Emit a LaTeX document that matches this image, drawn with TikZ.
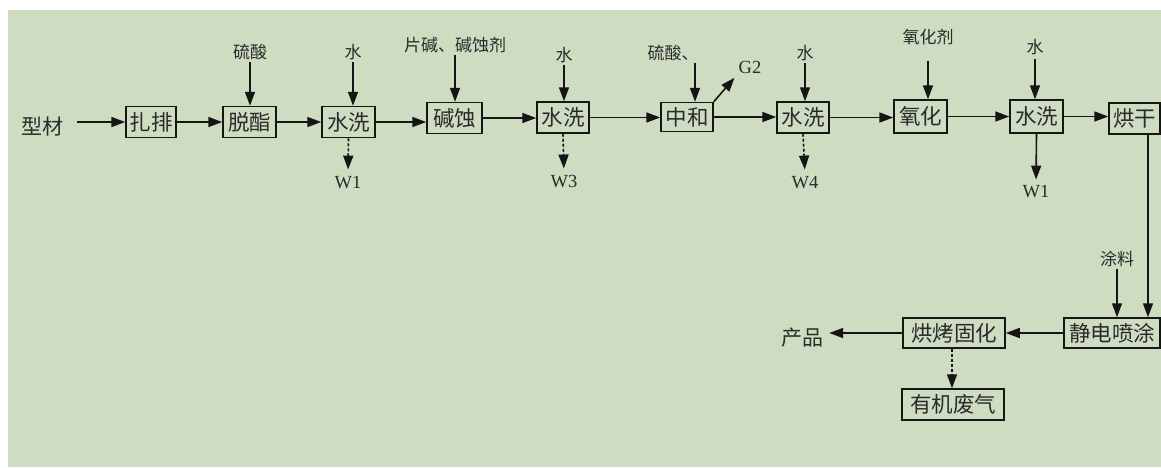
\documentclass[tikz,border=0pt]{standalone}
\usepackage{fontspec}
\setmainfont{Liberation Serif}
\newfontfamily\cjk{Noto Sans CJK SC}
\usetikzlibrary{arrows.meta}
\definecolor{bg}{HTML}{CEDDC2}
\definecolor{ink}{HTML}{151515}
\definecolor{txt}{HTML}{2A2A2A}
\tikzset{
  box/.style={draw=ink, line width=1.5pt, inner sep=0pt, text=txt,
    font=\cjk\fontsize{21.5}{21.5}\selectfont, minimum height=31pt},
  lbl/.style={inner sep=2pt, text=txt, font=\cjk\fontsize{17}{17}\selectfont},
  big/.style={inner sep=2pt, text=txt, font=\cjk\fontsize{21}{21}\selectfont},
  wl/.style={inner sep=2pt, text=txt, font=\fontsize{18.5}{18.5}\selectfont},
  arr/.style={draw=ink, line width=1.6pt, -{Triangle[length=14pt,width=10pt]}},
  darr/.style={arr, dash pattern=on 3pt off 2pt}
}
\begin{document}
\begin{tikzpicture}[x=1pt,y=-1pt]
\useasboundingbox (0,0) rectangle (1161,467);
\fill[white] (0,0) rectangle (1161,467);
\fill[bg] (8,10) rectangle (1161,467);

% boxes
\node[box, minimum width=50pt] (zp) at (151,122) {扎排};
\node[box, minimum width=53pt] (tz) at (249.5,122) {脱酯};
\node[box, minimum width=53pt] (sx1) at (348.5,122) {水洗};
\node[box, minimum width=55pt] (js) at (454.5,118) {碱蚀};
\node[box, minimum width=52pt] (sx2) at (563,117.5) {水洗};
\node[box, minimum width=52pt, minimum height=29pt] (zh) at (687,117) {中和};
\node[box, minimum width=52pt] (sx3) at (803,117.5) {水洗};
\node[box, minimum width=53pt, minimum height=33pt] (yh) at (920.5,116.5) {氧化};
\node[box, minimum width=53pt, minimum height=33pt] (sx4) at (1036.5,116.5) {水洗};
\node[box, minimum width=51pt] (hg) at (1134.5,118.5) {烘干};
\node[box, minimum width=96pt, minimum height=30pt] (jd) at (1112,333) {静电喷涂};
\node[box, minimum width=102pt, minimum height=30pt] (hk) at (954,333) {烘烤固化};
\node[box, minimum width=102pt, minimum height=31pt] (yj) at (953,404.5) {有机废气};

% labels
\node[big] (xc) at (42,127) {型材};
\node[big] (cp) at (802,338) {产品};
\node[lbl] (l1) at (250,52) {硫酸};
\node[lbl] (l2) at (353,52) {水};
\node[lbl] (l3) at (455,45) {片碱、碱蚀剂};
\node[lbl] (l4) at (564,55) {水};
\node[lbl] (l5) at (673,53) {硫酸、};
\node[lbl] (l6) at (805,53) {水};
\node[lbl] (l7) at (928,37) {氧化剂};
\node[lbl] (l8) at (1035,47) {水};
\node[lbl] (l9) at (1117,259) {涂料};
\node[wl] (w1) at (348,183) {W1};
\node[wl] (w3) at (564,182) {W3};
\node[wl] (w4) at (805,183) {W4};
\node[wl] (w1b) at (1036,192) {W1};
\node[wl] (g2) at (750,67) {G2};

\coordinate (zhin) at (695,63);
\coordinate (hgout) at (1148,134);

% main flow
\draw[arr, shorten <=12pt] (xc.east |- zp.west) -- (zp.west);
\draw[arr] (zp.east) -- (zp.east -| tz.west);
\draw[arr] (tz.east) -- (tz.east -| sx1.west);
\draw[arr] (sx1.east) -- (sx1.east -| js.west);
\draw[arr] (js.east) -- (js.east -| sx2.west);
\draw[arr] (sx2.east) -- (sx2.east -| zh.west);
\draw[arr] (zh.east) -- (zh.east -| sx3.west);
\draw[arr] (sx3.east) -- (sx3.east -| yh.west);
\draw[arr] (yh.east) -- (yh.east -| sx4.west);
\draw[arr] (sx4.east) -- (sx4.east -| hg.west);
\draw[arr] (hgout) -- (hgout |- jd.north);
\draw[arr] (jd.west) -- (jd.west -| hk.east);
\draw[arr, shorten >=4pt] (hk.west) -- (hk.west -| cp.east);
\draw[darr] (hk.south -| 952,0) -- (yj.north -| 952,0);

% inputs
\draw[arr] (l1.south) -- (l1.south |- tz.north);
\draw[arr] (l2.south) -- (l2.south |- sx1.north);
\draw[arr] (l3.south) -- (l3.south |- js.north);
\draw[arr] (l4.south) -- (l4.south |- sx2.north);
\draw[arr] (zhin) -- (zhin |- zh.north);
\draw[arr] (l6.south) -- (l6.south |- sx3.north);
\draw[arr, shorten <=14pt] (l7.south) -- (l7.south |- yh.north);
\draw[arr, shorten <=2pt] (l8.south) -- (l8.south |- sx4.north);
\draw[arr] (l9.south) -- (l9.south |- jd.north);

% outputs
\draw[darr, shorten >=5pt] (sx1.south) -- (w1.north);
\draw[darr, shorten >=5pt] (sx2.south) -- (w3.north);
\draw[darr, shorten >=5pt] (sx3.south) -- (w4.north);
\draw[arr, shorten >=4pt] (sx4.south) -- (w1b.north);
\draw[arr, shorten >=3pt] (zh.north east) -- (g2.south west);
\end{tikzpicture}
\end{document}
